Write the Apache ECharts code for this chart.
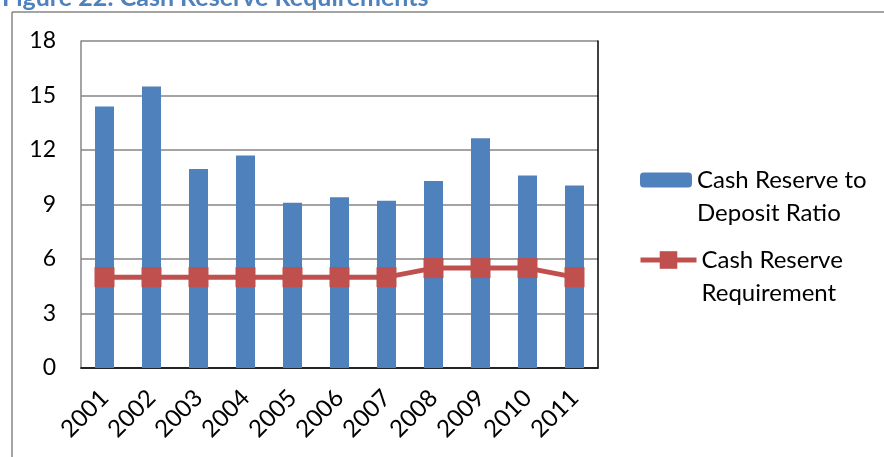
<!DOCTYPE html>
<html>
<head>
<meta charset="utf-8">
<script src="https://cdn.jsdelivr.net/npm/echarts@6/dist/echarts.min.js"></script>
<style>html,body{margin:0;padding:0;background:#fff}#c{width:884px;height:457px}</style>
</head>
<body>
<div id="c"></div>
<script>
const years = ['2001','2002','2003','2004','2005','2006','2007','2008','2009','2010','2011'];
const depositRatio = [14.4, 15.5, 10.95, 11.7, 9.1, 9.4, 9.2, 10.3, 12.65, 10.6, 10.05];
const requirement = [5, 5, 5, 5, 5, 5, 5, 5.5, 5.5, 5.5, 5];
const yTicks = {min: 0, max: 18, interval: 3};
const seriesNames = ['Cash Reserve to Deposit Ratio', 'Cash Reserve Requirement'];
const legendLines = {'Cash Reserve to Deposit Ratio': ['Cash Reserve to', 'Deposit Ratio'], 'Cash Reserve Requirement': ['Cash Reserve', 'Requirement']};
const titleText = 'Figure 22: Cash Reserve Requirements';

const FONT = 'Lato, "Open Sans", sans-serif';
const chart = echarts.init(document.getElementById('c'), null, {renderer: 'canvas'});
const legendFmt = n => '{s| }\n' + legendLines[n].map(l => '{t|' + l + '}').join('\n');
const legendText = {rich: {
  s: {fontFamily: FONT, fontSize: 24, lineHeight: 33},
  t: {fontFamily: FONT, fontSize: 24, lineHeight: 33, color: '#000'}
}};
chart.setOption({
  animation: false,
  graphic: [
    {type: 'text', x: 2, y: -2, z: 10, style: {text: titleText, font: 'bold 25px ' + FONT, fill: '#4F81BD', verticalAlign: 'middle'}},
    {type: 'line', shape: {x1: 12, y1: 12, x2: 884, y2: 12}, style: {stroke: '#868686', lineWidth: 1.5}},
    {type: 'line', shape: {x1: 12, y1: 12, x2: 12, y2: 457}, style: {stroke: '#868686', lineWidth: 1.5}}
  ],
  grid: {left: 81, right: 286, top: 41, bottom: 89, containLabel: false},
  legend: [
    {data: [seriesNames[0]], orient: 'vertical', left: 640, top: 135, padding: 0, itemWidth: 52, itemHeight: 15,
     formatter: legendFmt, textStyle: legendText, selectedMode: false},
    {data: [seriesNames[1]], orient: 'vertical', left: 638, top: 215, padding: 0, itemWidth: 56, itemHeight: 22,
     lineStyle: {width: 5}, formatter: legendFmt, textStyle: legendText, selectedMode: false}
  ],
  xAxis: [
    {type: 'category', data: years, position: 'bottom',
     axisLine: {lineStyle: {color: '#868686', width: 1.5}}, axisTick: {show: false},
     axisLabel: {rotate: 45, margin: 26, fontFamily: FONT, fontSize: 24, color: '#000', interval: 0}},
    {type: 'category', data: years, position: 'top',
     axisLine: {lineStyle: {color: '#000', width: 1.5}}, axisTick: {show: false}, axisLabel: {show: false}}
  ],
  yAxis: [
    {type: 'value', min: yTicks.min, max: yTicks.max, interval: yTicks.interval, position: 'left',
     axisLine: {show: true, lineStyle: {color: '#868686', width: 1.5}}, axisTick: {show: false},
     splitLine: {lineStyle: {color: '#868686', width: 1.5}},
     axisLabel: {margin: 25, fontFamily: FONT, fontSize: 23, color: '#000'}},
    {type: 'value', min: yTicks.min, max: yTicks.max, interval: yTicks.interval, position: 'right',
     axisLine: {show: true, lineStyle: {color: '#000', width: 1.5}}, axisTick: {show: false},
     splitLine: {show: false}, axisLabel: {show: false}}
  ],
  series: [
    {name: seriesNames[0], type: 'bar', data: depositRatio, barWidth: 19, itemStyle: {color: '#4F81BD'}},
    {name: seriesNames[1], type: 'line', data: requirement, symbol: 'rect', symbolSize: 20,
     lineStyle: {color: '#C0504D', width: 5}, itemStyle: {color: '#C0504D'}, z: 5}
  ]
});
</script>
</body>
</html>
